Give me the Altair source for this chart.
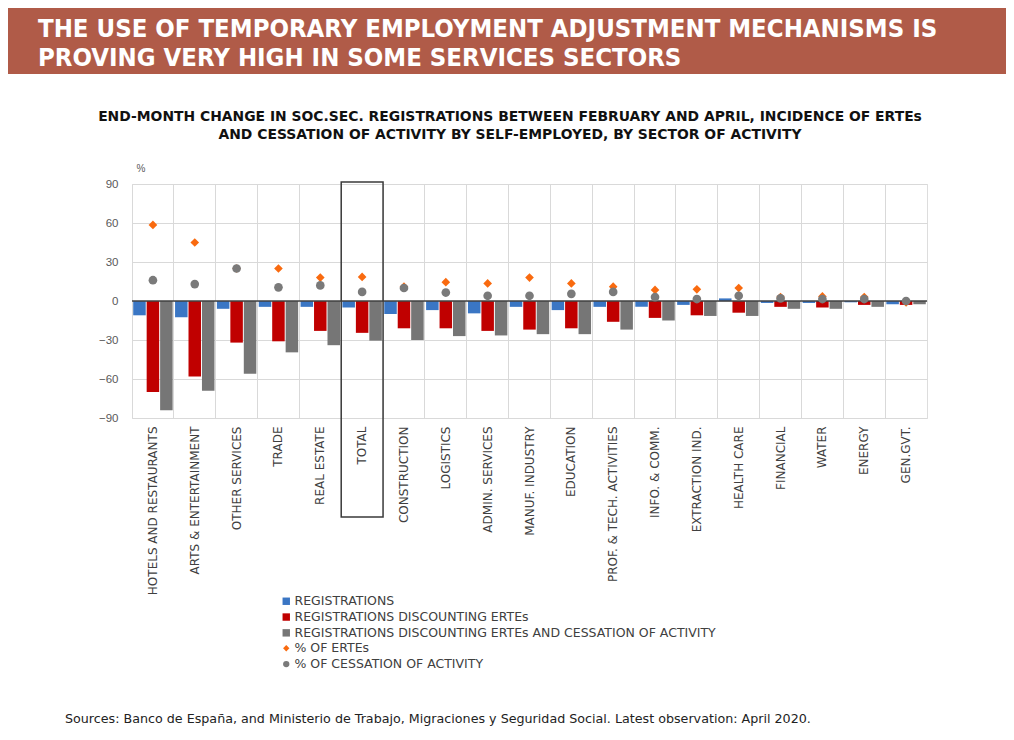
import altair as alt
import pandas as pd

sectors = ["HOTELS AND RESTAURANTS", "ARTS & ENTERTAINMENT", "OTHER SERVICES", "TRADE",
           "REAL ESTATE", "TOTAL", "CONSTRUCTION", "LOGISTICS", "ADMIN. SERVICES",
           "MANUF. INDUSTRY", "EDUCATION", "PROF. & TECH. ACTIVITIES", "INFO. & COMM.",
           "EXTRACTION IND.", "HEALTH CARE", "FINANCIAL", "WATER", "ENERGY", "GEN.GVT."]

registrations = [-11, -12.5, -6, -4.5, -4.5, -5, -10, -7, -9.5, -4.5, -7, -4.5, -4.5, -3, 2, -1.5, -1.5, -1, -2.5]
disc_ertes = [-70, -58, -32, -31, -23, -24.5, -21, -21, -23, -22, -21, -16, -13, -11, -9, -4.5, -5, -3, -3]
disc_ertes_cess = [-84, -69, -56, -39.5, -34, -30.5, -30, -27, -26.5, -25.5, -25.5, -22, -15, -11.5, -11.5, -6, -6, -4.5, -2.5]
pct_ertes = [58.5, 45, 25, 25, 18, 18.5, 11, 14.5, 13.5, 18, 13.5, 11, 8.5, 9, 10, 3, 3.5, 3, -1]
pct_cess = [16, 13, 25, 10.5, 12, 7, 10, 6.5, 4, 4, 5.5, 7, 3, 1.5, 4, 2, 1.5, 1.5, 0]

bar_series = ["REGISTRATIONS", "REGISTRATIONS DISCOUNTING ERTEs",
              "REGISTRATIONS DISCOUNTING ERTEs AND CESSATION OF ACTIVITY"]
bar_colors = ["#3a76c4", "#c00000", "#767676"]
pt_series = ["% OF ERTEs", "% OF CESSATION OF ACTIVITY"]
pt_colors = ["#f96a0f", "#7a7a7a"]
pt_shapes = ["diamond", "circle"]

title_text = ("THE USE OF TEMPORARY  EMPLOYMENT ADJUSTMENT MECHANISMS IS\n"
              "PROVING VERY HIGH IN SOME SERVICES SECTORS")
subtitle_text = ("END-MONTH CHANGE IN SOC.SEC. REGISTRATIONS BETWEEN FEBRUARY AND APRIL, INCIDENCE OF ERTEs\n"
                 "AND CESSATION OF ACTIVITY BY SELF-EMPLOYED, BY SECTOR OF ACTIVITY")
source_text = "Sources: Banco de España, and Ministerio de Trabajo, Migraciones y Seguridad Social. Latest observation: April 2020."

W, H = 795, 234
FONT = "Liberation Sans, Arial, sans-serif"
DFONT = "DejaVu Sans, sans-serif"

rows = []
for i, s in enumerate(sectors):
    for name, vals in zip(bar_series, [registrations, disc_ertes, disc_ertes_cess]):
        rows.append({"sector": s, "series": name, "value": vals[i]})
bars_df = pd.DataFrame(rows)

prow = []
for i, s in enumerate(sectors):
    for name, vals in zip(pt_series, [pct_ertes, pct_cess]):
        prow.append({"sector": s, "series": name, "value": vals[i]})
pts_df = pd.DataFrame(prow)

xscale = alt.Scale(domain=sectors, paddingInner=0, paddingOuter=0)
yscale = alt.Scale(domain=[-90, 90], nice=False)

xaxis = alt.Axis(title=None, labelAngle=270, labelFontSize=12, labelColor="#404040",
                 labelFont=DFONT, domain=False, ticks=False, grid=True, gridColor="#d9d9d9",
                 bandPosition=0, labelPadding=8, labelLimit=300)
yaxis = alt.Axis(values=[-90, -60, -30, 0, 30, 60, 90], grid=True, gridColor="#d9d9d9",
                 domain=False, ticks=False, labelFontSize=11.5, labelColor="#595959",
                 labelFont=FONT, labelPadding=14, labelOverlap=False, title="%", titleAngle=0,
                 titleX=4, titleY=-16, titleAlign="left", titleBaseline="middle",
                 titleFontWeight="normal", titleFontSize=10, titleColor="#595959", titleFont=FONT)

bars = alt.Chart(bars_df).mark_bar().encode(
    x=alt.X("sector:N", scale=xscale, axis=xaxis, sort=sectors),
    xOffset=alt.XOffset("series:N", sort=bar_series,
                        scale=alt.Scale(domain=bar_series, paddingInner=0.07, paddingOuter=0.09)),
    y=alt.Y("value:Q", scale=yscale, axis=yaxis),
    color=alt.Color("series:N", scale=alt.Scale(domain=bar_series, range=bar_colors),
                    legend=alt.Legend(title=None, orient="none", legendX=148, legendY=411,
                                      symbolType="square", symbolSize=55, symbolStrokeWidth=0,
                                      labelFontSize=12.5, labelColor="#404040", labelFont=DFONT,
                                      rowPadding=2.8, labelLimit=600, labelOffset=2)),
)

zero = alt.Chart(pd.DataFrame({"y": [0]})).mark_rule(color="#404040", strokeWidth=1.5).encode(
    y=alt.Y("y:Q", scale=yscale, axis=yaxis)
)

pt_legend = alt.Legend(title=None, orient="none", legendX=148, legendY=458,
                       symbolSize=40, labelFontSize=12.5, labelColor="#404040",
                       labelFont=DFONT, rowPadding=2.8, labelLimit=600, labelOffset=2)
points = alt.Chart(pts_df).mark_point(filled=True, size=75, opacity=1).encode(
    x=alt.X("sector:N", scale=xscale, sort=sectors),
    y=alt.Y("value:Q", scale=yscale, axis=yaxis),
    color=alt.Color("series:N", scale=alt.Scale(domain=pt_series, range=pt_colors), legend=pt_legend),
    shape=alt.Shape("series:N", scale=alt.Scale(domain=pt_series, range=pt_shapes), legend=pt_legend),
)

box = alt.Chart(pd.DataFrame({"sector": ["TOTAL"]})).mark_rect(
    fill=None, fillOpacity=0, stroke="#3a3a3a", strokeWidth=1.5
).encode(
    x=alt.X("sector:N", scale=xscale, sort=sectors),
    y=alt.value(-2), y2=alt.value(333),
)

header = alt.Chart(pd.DataFrame({"a": [0]})).mark_rect(color="#b05b48").encode(
    x=alt.value(-125), x2=alt.value(874), y=alt.value(-176), y2=alt.value(-110)
)
border = alt.Chart(pd.DataFrame({"a": [0]})).mark_rule(color="#b05b48", strokeWidth=2).encode(
    x=alt.value(-125), y=alt.value(-110), y2=alt.value(548)
)

title = alt.Chart(pd.DataFrame({"t": [title_text]})).mark_text(
    align="left", baseline="alphabetic", lineBreak="\n", lineHeight=29,
    font="DejaVu Sans Condensed, DejaVu Sans, sans-serif",
    fontWeight="bold", fontSize=25.5, color="white"
).encode(text="t:N", x=alt.value(-94), y=alt.value(-147))

subtitle = alt.Chart(pd.DataFrame({"t": [subtitle_text]})).mark_text(
    align="center", baseline="middle", lineBreak="\n", lineHeight=18,
    font=DFONT, fontWeight="bold", fontSize=13.9, color="#111111"
).encode(text="t:N", x=alt.value(378), y=alt.value(-67))

source = alt.Chart(pd.DataFrame({"t": [source_text]})).mark_text(
    align="left", baseline="middle", font=DFONT, fontSize=12.7, color="#222222"
).encode(text="t:N", x=alt.value(-67), y=alt.value(535))

chart = alt.layer(header, border, title, subtitle, bars, zero, points, box, source).resolve_scale(
    color="independent", shape="independent"
).properties(
    width=W, height=H,
    padding={"left": 124, "top": 176, "right": 79, "bottom": 308},
    autosize=alt.AutoSizeParams(type="none"),
).configure_view(stroke="#d9d9d9").configure(background="white")

chart.save("out.html", embed_options={"renderer": "svg", "actions": False})
